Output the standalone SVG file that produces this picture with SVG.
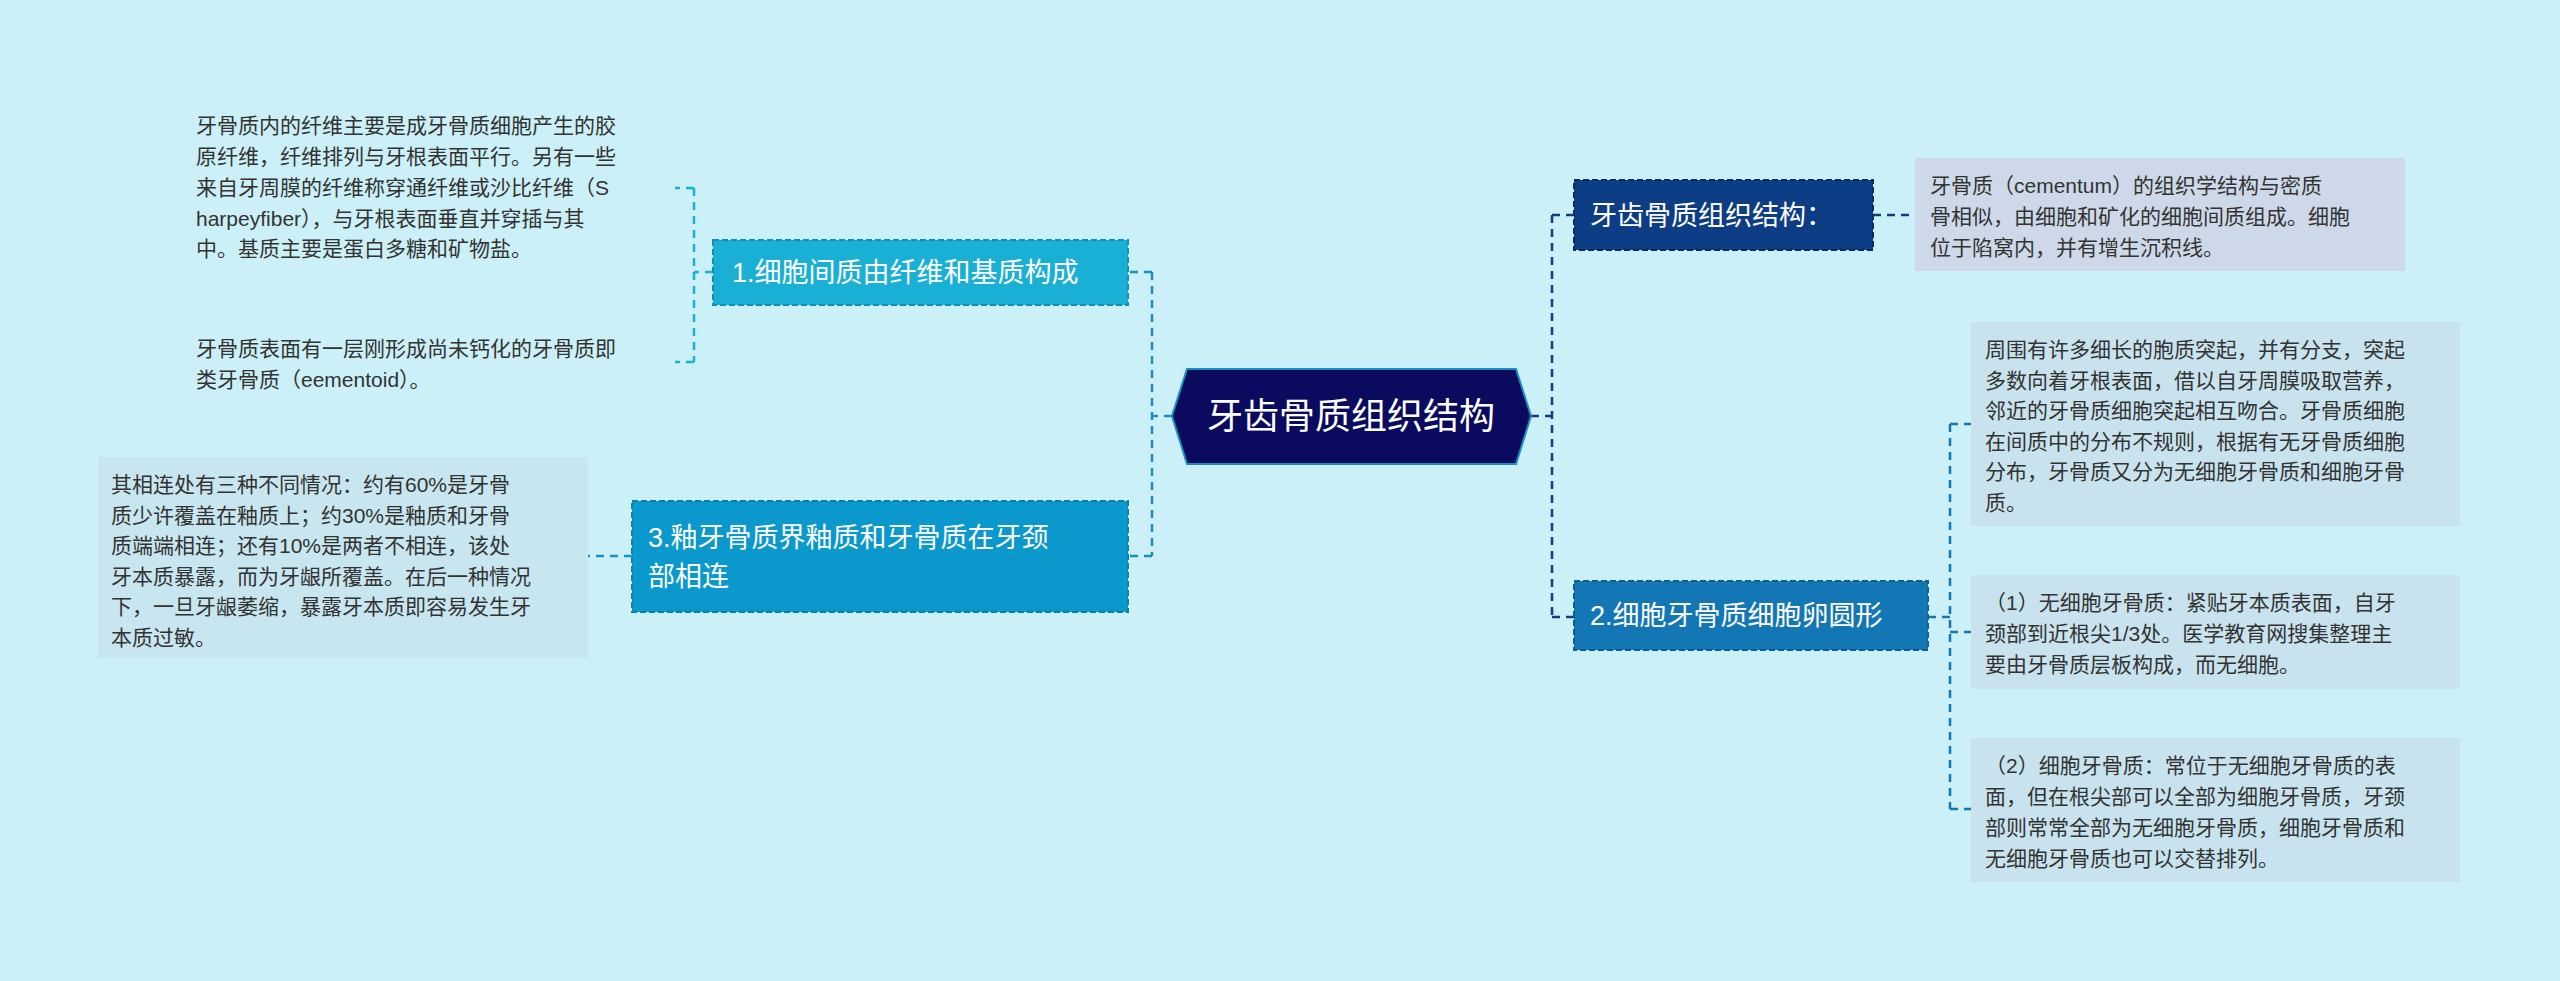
<svg xmlns="http://www.w3.org/2000/svg" width="2560" height="981" viewBox="0 0 2560 981">
<style>
text{font-family:"Liberation Sans","Noto Sans CJK SC",sans-serif}
.lf{font-size:21px;fill:#333}
.nt{font-size:27px;fill:#fff}
.c{fill:none;stroke-width:2.5;stroke-dasharray:8 6}
</style>
<rect width="2560" height="981" fill="#cbf0f7"/>
<g id="connectors">
<path class="c" stroke="#1a8fbf" d="M1172 416H1152M1152 272V556M1152 272H1128M1152 556H1128"/>
<path class="c" stroke="#1ab0d6" d="M713 272H694M694 188V362M694 188H675M694 362H675"/>
<path class="c" stroke="#0b98cc" d="M632 556H588"/>
<path class="c" stroke="#0d3d85" d="M1531 416H1552M1552 215V617M1552 215H1574M1552 617H1574M1873 215H1915"/>
<path class="c" stroke="#1477b5" d="M1928 617H1950M1950 424V809M1950 424H1971M1950 632H1971M1950 809H1971"/>
</g>
<g id="center">
<polygon points="1187,369 1516,369 1531,416 1516,464 1187,464 1172,416" fill="#0a0a5e" stroke="#1a8fbf" stroke-width="2"/>
<text x="1351" y="429" text-anchor="middle" font-size="36" fill="#fff">牙齿骨质组织结构</text>
</g>
<g id="n1">
<rect x="713" y="240" width="415" height="65" fill="#1ab0d6" stroke="#0e8fb5" stroke-width="2" stroke-dasharray="6 3"/>
<text class="nt" x="732" y="282">1.细胞间质由纤维和基质构成</text>
</g>
<g id="l1">
<text class="lf"><tspan x="196" y="133">牙骨质内的纤维主要是成牙骨质细胞产生的胶</tspan><tspan x="196" y="164">原纤维，纤维排列与牙根表面平行。另有一些</tspan><tspan x="196" y="195">来自牙周膜的纤维称穿通纤维或沙比纤维（S</tspan><tspan x="196" y="226">harpeyfiber），与牙根表面垂直并穿插与其</tspan><tspan x="196" y="256">中。基质主要是蛋白多糖和矿物盐。</tspan></text>
</g>
<g id="l2">
<text class="lf"><tspan x="196" y="356">牙骨质表面有一层刚形成尚未钙化的牙骨质即</tspan><tspan x="196" y="387">类牙骨质（eementoid）。</tspan></text>
</g>
<g id="n3">
<rect x="632" y="501" width="496" height="111" fill="#0b98cc" stroke="#0a7fae" stroke-width="2" stroke-dasharray="6 3"/>
<text class="nt"><tspan x="648" y="547">3.釉牙骨质界釉质和牙骨质在牙颈</tspan><tspan x="648" y="586">部相连</tspan></text>
</g>
<g id="l3">
<rect x="98" y="457" width="490" height="201" fill="#c8e6ef"/>
<text class="lf"><tspan x="111" y="492">其相连处有三种不同情况：约有60%是牙骨</tspan><tspan x="111" y="523">质少许覆盖在釉质上；约30%是釉质和牙骨</tspan><tspan x="111" y="553">质端端相连；还有10%是两者不相连，该处</tspan><tspan x="111" y="584">牙本质暴露，而为牙龈所覆盖。在后一种情况</tspan><tspan x="111" y="614">下，一旦牙龈萎缩，暴露牙本质即容易发生牙</tspan><tspan x="111" y="645">本质过敏。</tspan></text>
</g>
<g id="n0">
<rect x="1574" y="180" width="299" height="70" fill="#0d3d85" stroke="#082c66" stroke-width="2" stroke-dasharray="6 3"/>
<text class="nt" x="1590" y="225">牙齿骨质组织结构：</text>
</g>
<g id="l0">
<rect x="1915" y="158" width="490" height="113" fill="#cdd9e8"/>
<text class="lf"><tspan x="1930" y="193">牙骨质（cementum）的组织学结构与密质</tspan><tspan x="1930" y="224">骨相似，由细胞和矿化的细胞间质组成。细胞</tspan><tspan x="1930" y="255">位于陷窝内，并有增生沉积线。</tspan></text>
</g>
<g id="n2">
<rect x="1574" y="581" width="354" height="69" fill="#1477b5" stroke="#0e5f93" stroke-width="2" stroke-dasharray="6 3"/>
<text class="nt" x="1590" y="625">2.细胞牙骨质细胞卵圆形</text>
</g>
<g id="r1">
<rect x="1971" y="322" width="489" height="204" fill="#c8e3ee"/>
<text class="lf"><tspan x="1985" y="357">周围有许多细长的胞质突起，并有分支，突起</tspan><tspan x="1985" y="388">多数向着牙根表面，借以自牙周膜吸取营养，</tspan><tspan x="1985" y="418">邻近的牙骨质细胞突起相互吻合。牙骨质细胞</tspan><tspan x="1985" y="449">在间质中的分布不规则，根据有无牙骨质细胞</tspan><tspan x="1985" y="479">分布，牙骨质又分为无细胞牙骨质和细胞牙骨</tspan><tspan x="1985" y="510">质。</tspan></text>
</g>
<g id="r2">
<rect x="1971" y="575" width="489" height="114" fill="#c8e3ee"/>
<text class="lf"><tspan x="1985" y="610">（1）无细胞牙骨质：紧贴牙本质表面，自牙</tspan><tspan x="1985" y="641">颈部到近根尖1/3处。医学教育网搜集整理主</tspan><tspan x="1985" y="672">要由牙骨质层板构成，而无细胞。</tspan></text>
</g>
<g id="r3">
<rect x="1971" y="738" width="489" height="144" fill="#c8e3ee"/>
<text class="lf"><tspan x="1985" y="773">（2）细胞牙骨质：常位于无细胞牙骨质的表</tspan><tspan x="1985" y="804">面，但在根尖部可以全部为细胞牙骨质，牙颈</tspan><tspan x="1985" y="835">部则常常全部为无细胞牙骨质，细胞牙骨质和</tspan><tspan x="1985" y="866">无细胞牙骨质也可以交替排列。</tspan></text>
</g>
</svg>
